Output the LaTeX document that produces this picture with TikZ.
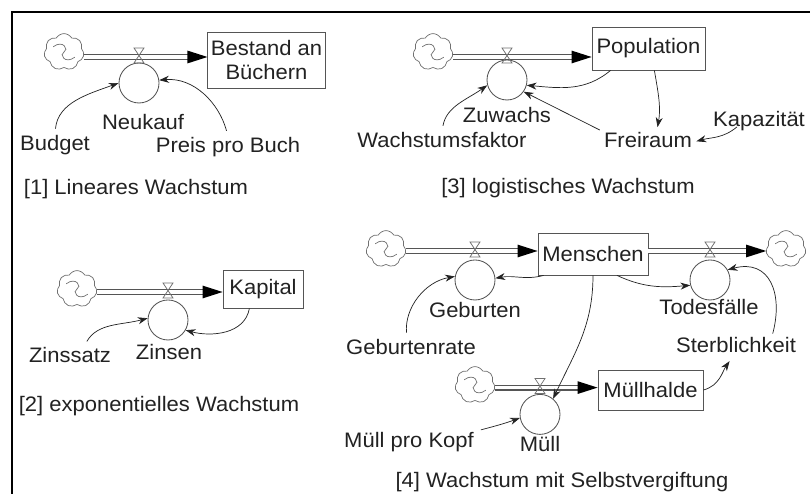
\documentclass[tikz,border=0pt]{standalone}
\usepackage{fontspec}
\setmainfont{Liberation Sans}[FakeStretch=1.05]
\usepackage{tikz}
\usetikzlibrary{arrows.meta, positioning, shapes.symbols, calc}
\definecolor{sdInk}{HTML}{222222}
\definecolor{sdLine}{HTML}{555555}
\definecolor{sdCloud}{HTML}{707070}

\begin{document}
\begin{tikzpicture}[
  font=\fontsize{14.9}{16.4}\selectfont,
  stock/.style={draw=sdLine, line width=0.6pt, align=center, inner sep=1pt, text=sdInk},
  rate/.style={circle, draw=sdLine, line width=0.6pt, minimum size=1.0cm, inner sep=0pt},
  source/.style={cloud, cloud puffs=7, cloud puff arc=120, draw=sdCloud, line width=0.5pt, minimum width=1.0cm, minimum height=0.92cm, inner sep=0pt},
  swirl/.style={draw=sdCloud, line width=0.5pt},
  pipe/.style={draw=sdLine, double=white, double distance=2.6pt, line width=0.8pt, shorten >=0.3cm},
  pipetip/.style={fill=black},
  valve/.style={draw=sdCloud, line width=0.5pt},
  link/.style={-{Stealth[length=7pt,width=5pt]}, draw=sdInk, line width=0.5pt, shorten <=4pt},
  var/.style={text=sdInk, inner sep=1pt, text height=0.36cm, text depth=0.09cm},
  caption/.style={text=sdInk, inner sep=1pt}
]
  \useasboundingbox (0,0) rectangle (20.25,12.35);
  \fill[white] (0,0) rectangle (20.25,12.35);
  \draw[line width=1.7pt] (0.3,0) -- (0.3,12.05) -- (20.25,12.05);

  % [1] linear growth
  \node[source] (cloudA) at (1.6,11.05) {};
  \node[stock, minimum width=2.93cm, minimum height=1.4cm] (bestand) at (6.6625,10.85) {Bestand an\\Büchern};
  \node[rate] (neukauf) at (3.475,10.275) {};
  \node[var] (neukaufL) at (3.575,9.25) {Neukauf};
  \node[var] (budget) at (1.375,8.725) {Budget};
  \node[var] (preis) at (5.7,8.675) {Preis pro Buch};
  \node[caption] (title1) at (3.4,7.625) {[1] Lineares Wachstum};
  \coordinate (flowA) at (0,10.925);

  % [3] logistic growth
  \node[source] (cloudB) at (10.825,11.05) {};
  \node[stock, minimum width=2.825cm, minimum height=1.075cm] (population) at (16.2125,11.1375) {Population};
  \node[rate] (zuwachs) at (12.675,10.35) {};
  \node[var] (zuwachsL) at (12.675,9.425) {Zuwachs};
  \node[var] (faktor) at (11.05,8.8) {Wachstumsfaktor};
  \node[var] (freiraum) at (16.2,8.8) {Freiraum};
  \node[var] (kapazitaet) at (18.975,9.325) {Kapazität};
  \node[caption] (title3) at (14.2,7.65) {[3] logistisches Wachstum};
  \coordinate (flowB) at (0,10.925);

  % [2] exponential growth
  \node[source] (cloudC) at (1.925,5.125) {};
  \node[stock, minimum width=2cm, minimum height=0.95cm] (kapital) at (6.575,5.125) {Kapital};
  \node[rate] (zinsen) at (4.2,4.35) {};
  \node[var] (zinsenL) at (4.225,3.5) {Zinsen};
  \node[var] (zinssatz) at (1.75,3.425) {Zinssatz};
  \node[caption] (title2) at (3.975,2.2) {[2] exponentielles Wachstum};
  \coordinate (flowC) at (0,5.05);

  % [4] growth with self-poisoning
  \node[source] (cloudD) at (9.65,6.125) {};
  \node[stock, minimum width=2.75cm, minimum height=1.05cm] (menschen) at (14.825,6.0) {Menschen};
  \node[source] (cloudE) at (19.65,6.125) {};
  \node[rate] (geburten) at (11.875,5.35) {};
  \node[var] (geburtenL) at (11.875,4.55) {Geburten};
  \node[var] (geburtenrate) at (10.275,3.625) {Geburtenrate};
  \node[rate] (todes) at (17.75,5.35) {};
  \node[var] (todesL) at (17.725,4.625) {Todesfälle};
  \node[var] (sterblichkeit) at (18.4,3.675) {Sterblichkeit};
  \node[source] (cloudF) at (11.875,2.725) {};
  \node[stock, minimum width=2.625cm, minimum height=1.0cm] (muellhalde) at (16.2625,2.6) {Müllhalde};
  \node[rate] (muell) at (13.5,1.99) {};
  \node[var] (muellL) at (13.5,1.2) {Müll};
  \node[var] (prokopf) at (10.225,1.3) {Müll pro Kopf};
  \node[caption] (title4) at (14.05,0.3) {[4] Wachstum mit Selbstvergiftung};
  \coordinate (flowD) at (0,6.075);
  \coordinate (flowG) at (0,2.66);

  % pipes
  \draw[pipe] (cloudA.east |- flowA) -- (bestand.west |- flowA);
  \draw[pipe] (cloudB.east |- flowB) -- (population.west |- flowB);
  \draw[pipe] (cloudC.east |- flowC) -- (kapital.west |- flowC);
  \draw[pipe] (cloudD.east |- flowD) -- (menschen.west |- flowD);
  \draw[pipe] (menschen.east |- flowD) -- (cloudE.west |- flowD);
  \draw[pipe] (cloudF.east |- flowG) -- (muellhalde.west |- flowG);

  \foreach \tgt/\fl in {bestand.west/flowA, population.west/flowB, kapital.west/flowC,
                        menschen.west/flowD, cloudE.west/flowD, muellhalde.west/flowG}
    \fill[pipetip] (\tgt |- \fl) -- ++(-0.5,0.16) -- ++(0,-0.32) -- cycle;

  \foreach \rt/\fl in {neukauf/flowA, zuwachs/flowB, zinsen/flowC,
                       geburten/flowD, todes/flowD, muell/flowG}
    \draw[valve] ($(\rt |- \fl)+(-0.125,0.225)$) -- ++(0.25,0)
      -- ($(\rt |- \fl)+(-0.125,-0.15)$) -- ++(0.25,0) -- cycle;

  \foreach \c in {cloudA,cloudB,cloudC,cloudD,cloudE,cloudF}
    \draw[swirl] ($(\c.center)+(-0.27,0.13)$) .. controls ($(\c.center)+(-0.02,0.32)$) and ($(\c.center)+(0.13,0.05)$) .. (\c.center)
      .. controls ($(\c.center)+(-0.13,-0.05)$) and ($(\c.center)+(0.02,-0.32)$) .. ($(\c.center)+(0.27,-0.13)$);

  % links
  \draw[link] (budget.north) to[out=85,in=200] (neukauf.west);
  \draw[link] (preis.north) to[out=105,in=5] (neukauf.8);

  \draw[link] (faktor.north) to[out=80,in=215] (zuwachs.195);
  \draw[link, shorten <=0pt] (population.210) to[out=220,in=-5] (zuwachs.-15);
  \draw[link, shorten <=0pt, shorten >=3pt] (population.-75) to[out=-80,in=80] ($(freiraum.north)+(0.22,0)$);
  \draw[link, shorten <=2pt] (freiraum.north west) -- (zuwachs.-35);
  \draw[link, shorten <=0pt, shorten >=2pt] ($(kapazitaet.south)+(-0.55,0.12)$) to[out=220,in=15] (freiraum.east);

  \draw[link] ($(zinssatz.north)+(0.35,0)$) to[out=60,in=195] (zinsen.175);
  \draw[link, shorten <=0pt] (kapital.235) to[out=-100,in=-15] (zinsen.-30);

  \draw[link, shorten <=0pt] ($(menschen.south west)+(0.15,0)$) to[out=195,in=10] (geburten.5);
  \draw[link] ($(geburtenrate.north)+(-0.1,0)$) to[out=95,in=190] (geburten.170);
  \draw[link, shorten <=0pt] ($(menschen.south)+(0.6,0)$) to[out=-25,in=185] (todes.195);
  \draw[link, shorten <=2pt] ($(sterblichkeit.north)+(0.9,0)$) to[out=75,in=15,looseness=1.4] (todes.30);
  \draw[link, shorten <=0pt] (menschen.south) to[out=-90,in=65] (muell.50);
  \draw[link, shorten <=0pt, shorten >=3pt] (muellhalde.east) to[out=15,in=235] ($(sterblichkeit.south)+(-0.1,0)$);
  \draw[link] (prokopf.north east) to[out=15,in=200] (muell.190);
\end{tikzpicture}
\end{document}
